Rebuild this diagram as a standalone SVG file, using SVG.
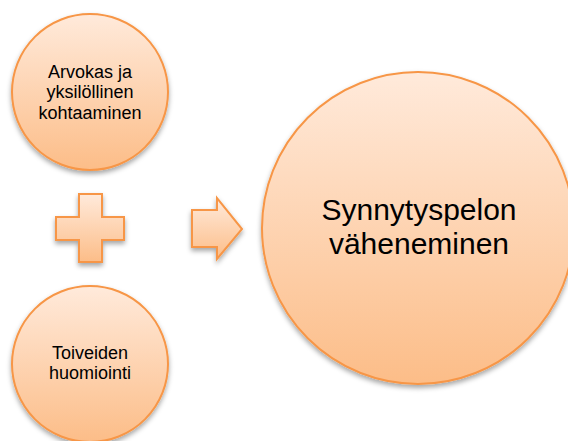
<svg xmlns="http://www.w3.org/2000/svg" width="568" height="441" viewBox="0 0 568 441">
  <defs>
    <linearGradient id="peach" x1="0" y1="0" x2="0" y2="1">
      <stop offset="0" stop-color="#FFEADB"/>
      <stop offset="1" stop-color="#FCBD88"/>
    </linearGradient>
    <filter id="shadow" x="-20%" y="-20%" width="140%" height="145%">
      <feDropShadow dx="0" dy="3" stdDeviation="2.5" flood-color="#000" flood-opacity="0.35"/>
    </filter>
    <style>
      .shape { fill: url(#peach); stroke: #F79646; stroke-width: 2; filter: url(#shadow); }
      .label { font-family: "Liberation Sans", Arial, sans-serif; fill: #000; text-anchor: middle; }
      .small { font-size: 18px; }
      .big { font-size: 30px; }
    </style>
  </defs>
  <rect width="568" height="441" fill="#FFFFFF"/>

  <g id="node-kohtaaminen">
    <circle class="shape" cx="90" cy="92" r="78"/>
    <text class="label small" x="90" y="77.5">Arvokas ja</text>
    <text class="label small" x="90" y="98">yksilöllinen</text>
    <text class="label small" x="90" y="118.5">kohtaaminen</text>
  </g>

  <g id="node-toiveet">
    <circle class="shape" cx="90" cy="364" r="78"/>
    <text class="label small" x="90" y="358.5">Toiveiden</text>
    <text class="label small" x="90" y="379">huomiointi</text>
  </g>

  <g id="node-plus">
    <polygon class="shape" points="79,194 102,194 102,217 124,217 124,240 102,240 102,262 79,262 79,240 56,240 56,217 79,217"/>
  </g>

  <g id="connectors">
    <polygon class="shape" points="192,210 217,210 217,198 242,229 217,259 217,247 192,247"/>
  </g>

  <g id="node-synnytyspelko">
    <circle class="shape" cx="418" cy="228" r="156"/>
    <text class="label big" x="419" y="220">Synnytyspelon</text>
    <text class="label big" x="419" y="254">väheneminen</text>
  </g>
</svg>
